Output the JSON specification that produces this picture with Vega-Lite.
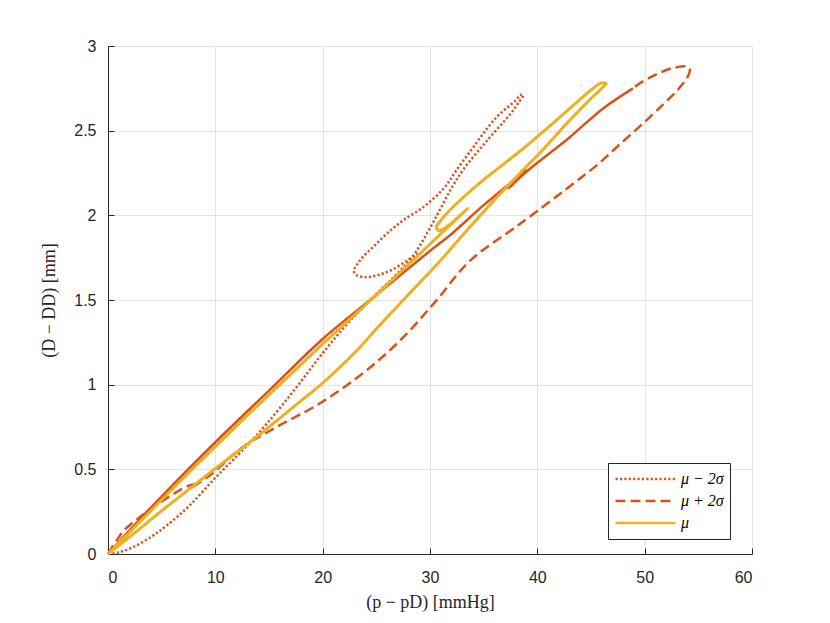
{
  "$schema": "https://vega.github.io/schema/vega-lite/v6.json",
  "width": 644,
  "height": 508,
  "autosize": "none",
  "padding": {"left": 108, "top": 46, "right": 78, "bottom": 69},
  "background": "white",
  "config": {
    "view": {"stroke": null},
    "axis": {
      "domainColor": "#262626",
      "domainWidth": 1,
      "tickColor": "#262626",
      "tickSize": -6,
      "labelFont": "Liberation Sans",
      "labelFontSize": 16,
      "labelColor": "#262626",
      "gridColor": "#e3e3e3",
      "gridWidth": 1,
      "titleFont": "Liberation Serif",
      "titleFontSize": 18,
      "titleFontWeight": "normal",
      "titleColor": "#262626"
    },
    "axisX": {"labelPadding": 21, "titlePadding": 8},
    "axisY": {"labelPadding": 18, "titlePadding": 15}
  },
  "datasets": {
    "main": [
      {"s": "μ − 2σ", "i": 0, "x": 0, "y": 0},
      {"s": "μ − 2σ", "i": 1, "x": 1, "y": 0.01},
      {"s": "μ − 2σ", "i": 2, "x": 2.3, "y": 0.04},
      {"s": "μ − 2σ", "i": 3, "x": 4, "y": 0.1},
      {"s": "μ − 2σ", "i": 4, "x": 5.5, "y": 0.17},
      {"s": "μ − 2σ", "i": 5, "x": 7.5, "y": 0.28},
      {"s": "μ − 2σ", "i": 6, "x": 10, "y": 0.45},
      {"s": "μ − 2σ", "i": 7, "x": 12.5, "y": 0.61},
      {"s": "μ − 2σ", "i": 8, "x": 14.8, "y": 0.77},
      {"s": "μ − 2σ", "i": 9, "x": 17.5, "y": 0.98},
      {"s": "μ − 2σ", "i": 10, "x": 19.8, "y": 1.17},
      {"s": "μ − 2σ", "i": 11, "x": 22.3, "y": 1.36},
      {"s": "μ − 2σ", "i": 12, "x": 24.9, "y": 1.53},
      {"s": "μ − 2σ", "i": 13, "x": 26.7, "y": 1.64},
      {"s": "μ − 2σ", "i": 14, "x": 28.3, "y": 1.75},
      {"s": "μ − 2σ", "i": 15, "x": 29.6, "y": 1.88},
      {"s": "μ − 2σ", "i": 16, "x": 30.9, "y": 2.03},
      {"s": "μ − 2σ", "i": 17, "x": 32, "y": 2.16},
      {"s": "μ − 2σ", "i": 18, "x": 33.1, "y": 2.27},
      {"s": "μ − 2σ", "i": 19, "x": 35.3, "y": 2.44},
      {"s": "μ − 2σ", "i": 20, "x": 37.5, "y": 2.6},
      {"s": "μ − 2σ", "i": 21, "x": 38.3, "y": 2.67},
      {"s": "μ − 2σ", "i": 22, "x": 38.7, "y": 2.71},
      {"s": "μ − 2σ", "i": 23, "x": 38.4, "y": 2.71},
      {"s": "μ − 2σ", "i": 24, "x": 38.0, "y": 2.68},
      {"s": "μ − 2σ", "i": 25, "x": 36.2, "y": 2.58},
      {"s": "μ − 2σ", "i": 26, "x": 34, "y": 2.4},
      {"s": "μ − 2σ", "i": 27, "x": 32.5, "y": 2.27},
      {"s": "μ − 2σ", "i": 28, "x": 31.3, "y": 2.16},
      {"s": "μ − 2σ", "i": 29, "x": 29.4, "y": 2.05},
      {"s": "μ − 2σ", "i": 30, "x": 27.5, "y": 1.97},
      {"s": "μ − 2σ", "i": 31, "x": 26.3, "y": 1.91},
      {"s": "μ − 2σ", "i": 32, "x": 24.8, "y": 1.82},
      {"s": "μ − 2σ", "i": 33, "x": 23.7, "y": 1.75},
      {"s": "μ − 2σ", "i": 34, "x": 23.1, "y": 1.7},
      {"s": "μ − 2σ", "i": 35, "x": 22.9, "y": 1.67},
      {"s": "μ − 2σ", "i": 36, "x": 23.2, "y": 1.645},
      {"s": "μ − 2σ", "i": 37, "x": 24.1, "y": 1.635},
      {"s": "μ − 2σ", "i": 38, "x": 25.3, "y": 1.65},
      {"s": "μ − 2σ", "i": 39, "x": 26.5, "y": 1.68},
      {"s": "μ − 2σ", "i": 40, "x": 27.8, "y": 1.73},
      {"s": "μ − 2σ", "i": 41, "x": 28.8, "y": 1.77},
      {"s": "μ − 2σ", "i": 42, "x": 27.5, "y": 1.68},
      {"s": "μ − 2σ", "i": 43, "x": 25, "y": 1.53},
      {"s": "μ − 2σ", "i": 44, "x": 20, "y": 1.24},
      {"s": "μ − 2σ", "i": 45, "x": 15, "y": 0.94},
      {"s": "μ − 2σ", "i": 46, "x": 10, "y": 0.634},
      {"s": "μ − 2σ", "i": 47, "x": 5, "y": 0.32},
      {"s": "μ − 2σ", "i": 48, "x": 0, "y": 0},

      {"s": "μ + 2σ", "i": 0, "x": 0, "y": 0},
      {"s": "μ + 2σ", "i": 1, "x": 0.8, "y": 0.08},
      {"s": "μ + 2σ", "i": 2, "x": 1.5, "y": 0.14},
      {"s": "μ + 2σ", "i": 3, "x": 3, "y": 0.22},
      {"s": "μ + 2σ", "i": 4, "x": 5, "y": 0.31},
      {"s": "μ + 2σ", "i": 5, "x": 6.5, "y": 0.37},
      {"s": "μ + 2σ", "i": 6, "x": 7.6, "y": 0.405},
      {"s": "μ + 2σ", "i": 7, "x": 8.0, "y": 0.41},
      {"s": "μ + 2σ", "i": 8, "x": 7.7, "y": 0.39},
      {"s": "μ + 2σ", "i": 9, "x": 8.6, "y": 0.425},
      {"s": "μ + 2σ", "i": 10, "x": 9.8, "y": 0.48},
      {"s": "μ + 2σ", "i": 11, "x": 12.3, "y": 0.62},
      {"s": "μ + 2σ", "i": 12, "x": 15.7, "y": 0.75},
      {"s": "μ + 2σ", "i": 13, "x": 19.75, "y": 0.89},
      {"s": "μ + 2σ", "i": 14, "x": 23.8, "y": 1.07},
      {"s": "μ + 2σ", "i": 15, "x": 27.2, "y": 1.26},
      {"s": "μ + 2σ", "i": 16, "x": 30.5, "y": 1.49},
      {"s": "μ + 2σ", "i": 17, "x": 33.7, "y": 1.73},
      {"s": "μ + 2σ", "i": 18, "x": 38.4, "y": 1.95},
      {"s": "μ + 2σ", "i": 19, "x": 43, "y": 2.17},
      {"s": "μ + 2σ", "i": 20, "x": 45.8, "y": 2.31},
      {"s": "μ + 2σ", "i": 21, "x": 47.7, "y": 2.42},
      {"s": "μ + 2σ", "i": 22, "x": 49.8, "y": 2.54},
      {"s": "μ + 2σ", "i": 23, "x": 51.8, "y": 2.66},
      {"s": "μ + 2σ", "i": 24, "x": 53.2, "y": 2.75},
      {"s": "μ + 2σ", "i": 25, "x": 54.1, "y": 2.83},
      {"s": "μ + 2σ", "i": 26, "x": 54.2, "y": 2.865},
      {"s": "μ + 2σ", "i": 27, "x": 53.8, "y": 2.88},
      {"s": "μ + 2σ", "i": 28, "x": 53, "y": 2.875},
      {"s": "μ + 2σ", "i": 29, "x": 52.1, "y": 2.86},
      {"s": "μ + 2σ", "i": 30, "x": 49.8, "y": 2.79},
      {"s": "μ + 2σ", "i": 31, "x": 48.9, "y": 2.75},

      {"s": "μ", "i": 0, "x": 0, "y": 0},
      {"s": "μ", "i": 1, "x": 2, "y": 0.1},
      {"s": "μ", "i": 2, "x": 5, "y": 0.255},
      {"s": "μ", "i": 3, "x": 7.5, "y": 0.38},
      {"s": "μ", "i": 4, "x": 10, "y": 0.505},
      {"s": "μ", "i": 5, "x": 12.5, "y": 0.625},
      {"s": "μ", "i": 6, "x": 15, "y": 0.75},
      {"s": "μ", "i": 7, "x": 17.5, "y": 0.88},
      {"s": "μ", "i": 8, "x": 20, "y": 1.01},
      {"s": "μ", "i": 9, "x": 23, "y": 1.19},
      {"s": "μ", "i": 10, "x": 25.3, "y": 1.35},
      {"s": "μ", "i": 11, "x": 28.4, "y": 1.56},
      {"s": "μ", "i": 12, "x": 30.5, "y": 1.7},
      {"s": "μ", "i": 13, "x": 33.7, "y": 1.93},
      {"s": "μ", "i": 14, "x": 36, "y": 2.09},
      {"s": "μ", "i": 15, "x": 38.4, "y": 2.25},
      {"s": "μ", "i": 16, "x": 40.4, "y": 2.38},
      {"s": "μ", "i": 17, "x": 43, "y": 2.56},
      {"s": "μ", "i": 18, "x": 45, "y": 2.69},
      {"s": "μ", "i": 19, "x": 46, "y": 2.75},
      {"s": "μ", "i": 20, "x": 46.4, "y": 2.78},
      {"s": "μ", "i": 21, "x": 45.9, "y": 2.78},
      {"s": "μ", "i": 22, "x": 45.2, "y": 2.75},
      {"s": "μ", "i": 23, "x": 43, "y": 2.63},
      {"s": "μ", "i": 24, "x": 41.2, "y": 2.53},
      {"s": "μ", "i": 25, "x": 38.4, "y": 2.38},
      {"s": "μ", "i": 26, "x": 35, "y": 2.21},
      {"s": "μ", "i": 27, "x": 33.7, "y": 2.14},
      {"s": "μ", "i": 28, "x": 32, "y": 2.04},
      {"s": "μ", "i": 29, "x": 31, "y": 1.97},
      {"s": "μ", "i": 30, "x": 30.6, "y": 1.93},
      {"s": "μ", "i": 31, "x": 30.8, "y": 1.91},
      {"s": "μ", "i": 32, "x": 31.5, "y": 1.93},
      {"s": "μ", "i": 33, "x": 33.5, "y": 2.04},
      {"s": "μ", "i": 34, "x": 32.5, "y": 1.98},
      {"s": "μ", "i": 35, "x": 30, "y": 1.83},
      {"s": "μ", "i": 36, "x": 27.5, "y": 1.68},
      {"s": "μ", "i": 37, "x": 25, "y": 1.53},
      {"s": "μ", "i": 38, "x": 22.5, "y": 1.385},
      {"s": "μ", "i": 39, "x": 20, "y": 1.24},
      {"s": "μ", "i": 40, "x": 17.5, "y": 1.09},
      {"s": "μ", "i": 41, "x": 15, "y": 0.94},
      {"s": "μ", "i": 42, "x": 12.5, "y": 0.79},
      {"s": "μ", "i": 43, "x": 10, "y": 0.634},
      {"s": "μ", "i": 44, "x": 7.5, "y": 0.48},
      {"s": "μ", "i": 45, "x": 5, "y": 0.32},
      {"s": "μ", "i": 46, "x": 2.5, "y": 0.16},
      {"s": "μ", "i": 47, "x": 0, "y": 0}
    ],
    "solid": [
      {"i": 0, "x": 48.9, "y": 2.75},
      {"i": 1, "x": 46.1, "y": 2.63},
      {"i": 2, "x": 43, "y": 2.46},
      {"i": 3, "x": 40, "y": 2.31},
      {"i": 4, "x": 38.5, "y": 2.23},
      {"i": 5, "x": 37.6, "y": 2.175},
      {"i": 6, "x": 37.3, "y": 2.16},
      {"i": 7, "x": 37.6, "y": 2.18},
      {"i": 8, "x": 38.3, "y": 2.23},
      {"i": 9, "x": 38.9, "y": 2.27},
      {"i": 10, "x": 38.5, "y": 2.245},
      {"i": 11, "x": 35, "y": 2.06},
      {"i": 12, "x": 32, "y": 1.89},
      {"i": 13, "x": 30, "y": 1.79},
      {"i": 14, "x": 25, "y": 1.53},
      {"i": 15, "x": 20, "y": 1.27},
      {"i": 16, "x": 15, "y": 0.965},
      {"i": 17, "x": 10, "y": 0.66},
      {"i": 18, "x": 5, "y": 0.34},
      {"i": 19, "x": 2, "y": 0.14},
      {"i": 20, "x": 0, "y": 0}
    ]
  },
  "encoding": {
    "x": {
      "field": "x", "type": "quantitative",
      "scale": {"domain": [0, 60], "nice": false, "zero": false},
      "axis": {"values": [0, 10, 20, 30, 40, 50, 60], "format": "d", "grid": true, "title": "(p − pD) [mmHg]"}
    },
    "y": {
      "field": "y", "type": "quantitative",
      "scale": {"domain": [0, 3], "nice": false, "zero": false},
      "axis": {"values": [0, 0.5, 1, 1.5, 2, 2.5, 3], "format": ".1~f", "grid": true, "title": "(D − DD) [mm]"}
    },
    "order": {"field": "i", "type": "quantitative"}
  },
  "layer": [
    {
      "data": {"name": "main"},
      "transform": [{"filter": "datum.s !== 'μ'"}],
      "mark": {"type": "line", "strokeWidth": 2.5, "strokeCap": "butt", "interpolate": "catmull-rom"},
      "encoding": {
        "color": {
          "field": "s", "type": "nominal",
          "scale": {"domain": ["μ − 2σ", "μ + 2σ", "μ"], "range": ["#D95319", "#D95319", "#EDB120"]},
          "legend": {
            "orient": "none", "legendX": 500, "legendY": 417, "title": null,
            "symbolType": "stroke", "symbolSize": 3600, "symbolStrokeWidth": 2.5, "clipHeight": 20,
            "labelFont": "Liberation Serif", "labelFontSize": 16, "labelFontStyle": "italic", "labelColor": "black",
            "strokeColor": "#262626", "fillColor": "white", "padding": 6, "rowPadding": 2, "labelOffset": 4
          }
        },
        "strokeDash": {
          "field": "s", "type": "nominal",
          "scale": {"domain": ["μ − 2σ", "μ + 2σ", "μ"], "range": [[2.2, 2.2], [10, 5], [1, 0]]}
        }
      }
    },
    {
      "data": {"name": "solid"},
      "mark": {"type": "line", "strokeWidth": 2.5, "color": "#D95319", "interpolate": "catmull-rom"},
      "encoding": {}
    },
    {
      "data": {"name": "main"},
      "transform": [{"filter": "datum.s === 'μ'"}],
      "mark": {"type": "line", "strokeWidth": 3, "interpolate": "catmull-rom"},
      "encoding": {
        "color": {"field": "s", "type": "nominal"},
        "strokeDash": {"field": "s", "type": "nominal"}
      }
    }
  ]
}
